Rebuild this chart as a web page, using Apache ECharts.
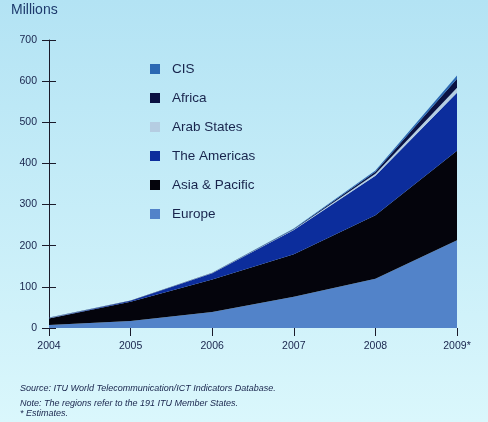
<!DOCTYPE html>
<html>
<head>
    <meta charset="utf-8">
    <script src="https://cdn.jsdelivr.net/npm/echarts@6/dist/echarts.min.js"></script>
    <style>
        html, body { margin: 0; padding: 0; }
    </style>
</head>
<body>
    <div id="main" style="width: 488px;height:422px;"></div>
    <script type="text/javascript">

// years on the x axis
var years = ['2004', '2005', '2006', '2007', '2008', '2009*'];
// millions, stacked bottom to top
var europe = [7, 17, 39, 76, 120, 213];
var asiaPacific = [16, 47, 79, 103, 154, 218];
var americas = [1, 2, 15, 59, 96, 141];
var arabStates = [0.5, 0.3, 0.5, 1.5, 5, 12];
var africa = [0.5, 0.4, 0.5, 1, 5, 22];
var cis = [0.5, 0.3, 0.5, 1.5, 3, 8];
var yTicks = [0, 100, 200, 300, 400, 500, 600, 700];

var legendOrder = ['CIS', 'Africa', 'Arab States', 'The Americas', 'Asia & Pacific', 'Europe'];

var font = 'Liberation Sans, Arial, sans-serif';
var ink = '#18244c';

function layer(name, color, data) {
    return {
        name: name,
        type: 'line',
        stack: 'total',
        symbol: 'none',
        smooth: false,
        itemStyle: { color: color },
        lineStyle: { width: 0 },
        areaStyle: { color: color, opacity: 1 },
        data: data
    };
}

var option = {
    animation: false,
    backgroundColor: new echarts.graphic.LinearGradient(0, 0, 0, 1, [
        { offset: 0, color: '#b3e3f4' },
        { offset: 1, color: '#daf7fc' }
    ]),
    grid: { left: 49, right: 31, top: 40, bottom: 94 },
    legend: {
        orient: 'vertical',
        left: 145,
        top: 57,
        itemWidth: 10,
        itemHeight: 10,
        itemGap: 15,
        icon: 'rect',
        data: legendOrder,
        textStyle: { fontFamily: font, fontSize: 13.5, color: ink, padding: [0, 0, 0, 7] }
    },
    xAxis: {
        type: 'category',
        boundaryGap: false,
        data: years,
        axisLine: { show: false },
        axisTick: { show: true, length: 8, alignWithLabel: true, lineStyle: { color: '#1a1a2a' } },
        axisLabel: { fontFamily: font, fontSize: 10.5, color: ink, margin: 13 },
        splitLine: { show: false }
    },
    yAxis: [{
        type: 'value',
        min: yTicks[0],
        max: yTicks[yTicks.length - 1],
        interval: 100,
        axisLine: { show: true, lineStyle: { color: '#1a1a2a' } },
        axisTick: { show: true, length: 7, lineStyle: { color: '#1a1a2a' } },
        axisLabel: { fontFamily: font, fontSize: 10.5, color: ink, margin: 12 },
        splitLine: { show: false }
    }, {
        // second copy only to draw the ticks on the inner side
        type: 'value',
        position: 'left',
        min: yTicks[0],
        max: yTicks[yTicks.length - 1],
        interval: 100,
        axisLine: { show: false },
        axisTick: { show: true, inside: true, length: 7, lineStyle: { color: '#1a1a2a' } },
        axisLabel: { show: false },
        splitLine: { show: false }
    }],
    graphic: [
        { type: 'text', left: 11, top: 3, style: { text: 'Millions', fontFamily: font, fontSize: 14, fill: '#1d3a6c' } },
        { type: 'text', left: 20, top: 384, style: { text: 'Source: ITU World Telecommunication/ICT Indicators Database.', fontFamily: font, fontSize: 9, fontStyle: 'italic', fill: ink } },
        { type: 'text', left: 20, top: 399, style: { text: 'Note: The regions refer to the 191 ITU Member States.', fontFamily: font, fontSize: 9, fontStyle: 'italic', fill: ink } },
        { type: 'text', left: 20, top: 409, style: { text: '* Estimates.', fontFamily: font, fontSize: 9, fontStyle: 'italic', fill: ink } }
    ],
    series: [
        layer('Europe', '#5283c9', europe),
        layer('Asia & Pacific', '#04040c', asiaPacific),
        layer('The Americas', '#0c2d9c', americas),
        layer('Arab States', '#b5cde2', arabStates),
        layer('Africa', '#0a1142', africa),
        layer('CIS', '#2c69b3', cis)
    ]
};

var myChart = echarts.init(document.getElementById('main'));
myChart.setOption(option);

    </script>
</body>
</html>
